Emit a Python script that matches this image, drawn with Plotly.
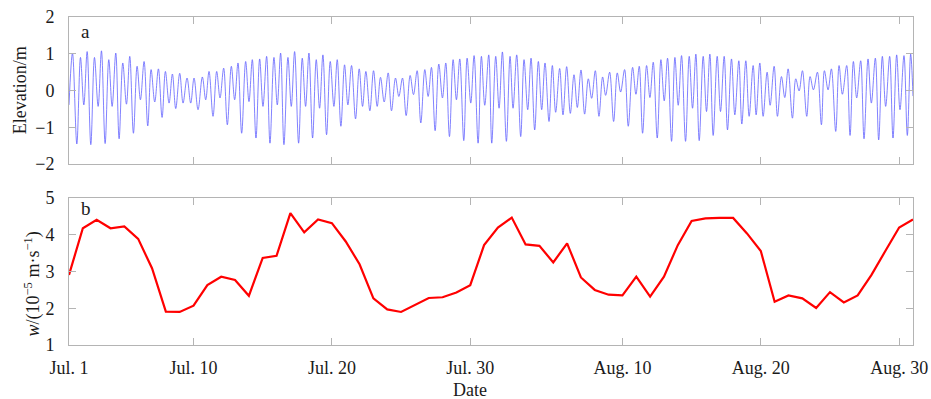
import plotly.graph_objects as go

# ---- Data ----
# Panel a: tidal elevation extremes (days since Jul. 1, elevation in m)
tide_days = [
    0.000, 0.253, 0.566, 0.830, 1.071, 1.312, 1.576, 1.841, 2.106, 2.347, 2.611, 2.876, 3.117,
    3.381, 3.622, 3.887, 4.152, 4.392, 4.657, 4.922, 5.162, 5.427, 5.692, 5.933, 6.197, 6.462,
    6.727, 6.968, 7.232, 7.473, 7.714, 8.002, 8.243, 8.532, 8.797, 9.037, 9.326, 9.639, 9.880,
    10.120, 10.409, 10.674, 10.915, 11.179, 11.444, 11.733, 11.973, 12.214, 12.479, 12.768, 13.008,
    13.249, 13.514, 13.779, 14.019, 14.284, 14.525, 14.813, 15.054, 15.295, 15.535, 15.824, 16.065,
    16.306, 16.595, 16.859, 17.100, 17.341, 17.605, 17.870, 18.111, 18.351, 18.616, 18.881, 19.146,
    19.386, 19.651, 19.916, 20.156,
    20.421, 20.710, 20.975, 21.216, 21.456, 21.745, 22.010, 22.275, 22.515, 22.780, 23.069, 23.309,
    23.598, 23.839, 24.103, 24.368, 24.657, 24.898, 25.162, 25.427, 25.716, 25.957, 26.197, 26.462,
    26.727, 26.992, 27.232, 27.497, 27.762, 28.002, 28.243, 28.532, 28.773, 29.037, 29.278, 29.567,
    29.807, 30.048, 30.337,
    30.554, 30.842, 31.083, 31.324, 31.613, 31.877, 32.094, 32.359, 32.647, 32.888, 33.153, 33.394,
    33.658, 33.923, 34.164, 34.404, 34.693, 34.934, 35.174, 35.463, 35.704, 35.969, 36.233, 36.498,
    36.739, 37.004, 37.268, 37.533, 37.774, 38.039, 38.303, 38.568, 38.785, 39.074, 39.362, 39.627,
    39.868, 40.156, 40.421,
    40.734, 40.975, 41.215, 41.456, 41.745, 41.986, 42.226, 42.515, 42.780, 43.021, 43.261, 43.550,
    43.791, 44.031, 44.272, 44.561, 44.826, 45.066, 45.307, 45.548, 45.836, 46.077, 46.318, 46.558,
    46.847, 47.088, 47.353, 47.593, 47.882, 48.123, 48.412, 48.628, 48.917, 49.158, 49.446, 49.663,
    49.928, 50.168, 50.457, 50.674,
    50.963, 51.203, 51.492, 51.733, 51.974, 52.286, 52.527, 52.768, 53.009, 53.321, 53.562, 53.803,
    54.091, 54.380, 54.597, 54.862, 55.102, 55.415, 55.656, 55.897, 56.209, 56.450, 56.691, 56.931,
    57.220, 57.461, 57.750, 57.990, 58.279, 58.520, 58.785, 59.025, 59.314, 59.555, 59.820, 60.060,
    60.349, 60.590, 60.830, 61.000,
]
tide_elev = [
    -0.39, 1.02, -1.45, 0.90, -0.39, 1.06, -1.47, 0.90, -0.43, 1.08, -1.44, 0.84, -0.43,
    1.02, -1.31, 0.75, -0.37, 0.93, -1.16, 0.66, -0.25, 0.79, -0.96, 0.57, -0.31, 0.59,
    -0.73, 0.52, -0.34, 0.45, -0.49, 0.47, -0.34, 0.34, -0.34, 0.34, -0.52, 0.37, -0.25,
    0.52, -0.70, 0.52, -0.20, 0.61, -0.93, 0.66, -0.25, 0.75, -1.16, 0.79, -0.30,
    0.84, -1.29, 0.86, -0.43, 0.93, -1.43, 0.90, -0.39, 1.02, -1.47, 0.90, -0.43,
    1.06, -1.43, 0.88, -0.43, 1.02, -1.29, 0.84, -0.48, 0.97, -1.20, 0.79, -0.43,
    0.84, -0.97, 0.70, -0.39,
    0.68, -0.77, 0.59, -0.43, 0.52, -0.55, 0.54, -0.43, 0.36, -0.31, 0.48, -0.55,
    0.34, -0.16, 0.34, -0.68, 0.41, -0.11, 0.54, -0.88, 0.57, -0.16, 0.63, -1.09,
    0.72, -0.20, 0.75, -1.25, 0.84, -0.25, 0.86, -1.36, 0.88, -0.34, 0.95, -1.43,
    0.93, -0.40, 0.97,
    -1.43, 0.93, -0.48, 1.05, -1.38, 0.93, -0.48, 0.97, -1.25, 0.84, -0.52, 0.88,
    -1.07, 0.79, -0.52, 0.75, -0.84, 0.68, -0.59, 0.60, -0.66, 0.65, -0.62, 0.43,
    -0.46, 0.56, -0.64, 0.32, -0.21, 0.54, -0.70, 0.37, -0.13, 0.50, -0.84, 0.48,
    -0.04, 0.57, -0.97,
    0.63, -0.10, 0.66, -1.16, 0.68, -0.19, 0.77, -1.29, 0.84, -0.28, 0.88, -1.38,
    0.90, -0.40, 0.95, -1.38, 0.93, -0.48, 0.99, -1.36, 0.93, -0.57, 0.99, -1.22,
    0.93, -0.57, 0.93, -1.07, 0.86, -0.66, 0.81, -0.91, 0.81, -0.70, 0.68, -0.66,
    0.75, -0.70, 0.50, -0.40,
    0.66, -0.70, 0.38, -0.19, 0.59, -0.75, 0.32, -0.01, 0.54, -0.70, 0.38, 0.02,
    0.50, -0.93, 0.54, 0.02, 0.59, -1.11, 0.68, -0.10, 0.68, -1.22, 0.79, -0.20,
    0.81, -1.31, 0.86, -0.34, 0.88, -1.34, 0.93, -0.43, 0.93, -1.29, 0.97, -0.52,
    0.95, -1.22, 0.99, -0.15,
]

# Panel b: daily w (10^-5 m/s), days since Jul. 1
w_days = list(range(62))
w_vals = [
    2.91, 4.18, 4.41, 4.18, 4.23, 3.89, 3.09, 1.91, 1.90, 2.07,
    2.63, 2.86, 2.77, 2.34, 3.37, 3.43, 4.59, 4.07, 4.42, 4.32,
    3.82, 3.20, 2.27, 1.97, 1.90, 2.09, 2.28, 2.30, 2.43, 2.63,
    3.72, 4.20, 4.47, 3.74, 3.70, 3.25, 3.77, 2.84, 2.50, 2.37,
    2.35, 2.86, 2.32, 2.86, 3.72, 4.38, 4.45, 4.46, 4.46, 4.04,
    3.56, 2.18, 2.35, 2.27, 2.01, 2.44, 2.16, 2.35, 2.91, 3.56,
    4.20, 4.42,
]

x_tick_days = [0, 9, 19, 29, 40, 50, 60]
x_tick_text = ["Jul. 1", "Jul. 10", "Jul. 20", "Jul. 30", "Aug. 10", "Aug. 20", "Aug. 30"]

# ---- Figure ----
FONT = "Liberation Serif"
AXC = "#b4b4b4"

fig = go.Figure()
fig.add_trace(go.Scatter(
    x=tide_days, y=tide_elev, mode="lines",
    line=dict(color="#6262ff", width=0.8, shape="spline", smoothing=1.0),
    xaxis="x", yaxis="y", showlegend=False, hoverinfo="skip"))
fig.add_trace(go.Scatter(
    x=w_days, y=w_vals, mode="lines",
    line=dict(color="#ff0000", width=2.2),
    xaxis="x2", yaxis="y2", showlegend=False))

common_axis = dict(
    showline=True, linecolor=AXC, linewidth=1, mirror="ticks",
    ticks="inside", ticklen=7, tickcolor=AXC, tickwidth=1,
    showgrid=False, zeroline=False, ticklabeloverflow="allow",
)
yfont = dict(family=FONT, size=18, color="#1a1a1a")
xfont = dict(family=FONT, size=18, color="#1a1a1a")

fig.update_layout(
    width=931, height=399,
    margin=dict(l=68.5, r=17.7, t=17.3, b=54, autoexpand=False),
    paper_bgcolor="white", plot_bgcolor="white",
    font=dict(family=FONT, size=18, color="#1a1a1a"),
    xaxis=dict(domain=[0, 1], range=[0, 61], anchor="y",
               tickvals=x_tick_days, ticktext=x_tick_text,
               showticklabels=False, tickfont=xfont, **common_axis),
    yaxis=dict(domain=[0.5514, 1], range=[-2, 2], dtick=1, anchor="x",
               ticklabelstandoff=10, tickfont=yfont, **common_axis),
    xaxis2=dict(domain=[0, 1], range=[0, 61], anchor="y2",
                tickvals=x_tick_days, ticktext=x_tick_text,
                ticklabelstandoff=6, tickfont=xfont, **common_axis),
    yaxis2=dict(domain=[0, 0.4477], range=[1, 5], dtick=1, anchor="x2",
                ticklabelstandoff=10, tickfont=yfont, **common_axis),
    annotations=[
        dict(text="a", x=0.0195, y=0.9567, xref="paper", yref="paper",
             showarrow=False, xanchor="center", yanchor="middle",
             font=dict(family=FONT, size=19)),
        dict(text="b", x=0.0207, y=0.415, xref="paper", yref="paper",
             showarrow=False, xanchor="center", yanchor="middle",
             font=dict(family=FONT, size=19)),
        dict(text="Elevation/m", x=-0.0586, y=0.775, xref="paper", yref="paper",
             textangle=-90, showarrow=False, xanchor="center", yanchor="middle",
             font=dict(family=FONT, size=18)),
        dict(text="<i>w</i>/(10<sup>−5</sup> m·s<sup>−1</sup>)", x=-0.0432, y=0.186,
             xref="paper", yref="paper", textangle=-90, showarrow=False,
             xanchor="center", yanchor="middle", font=dict(family=FONT, size=18)),
        dict(text="Date", x=0.4752, y=-0.1375, xref="paper", yref="paper",
             showarrow=False, xanchor="center", yanchor="middle",
             font=dict(family=FONT, size=18)),
    ],
)

fig.write_html(
    "out.html",
    config={"displayModeBar": False},
    post_script="document.body.style.margin='0';document.body.style.overflow='hidden';",
)
